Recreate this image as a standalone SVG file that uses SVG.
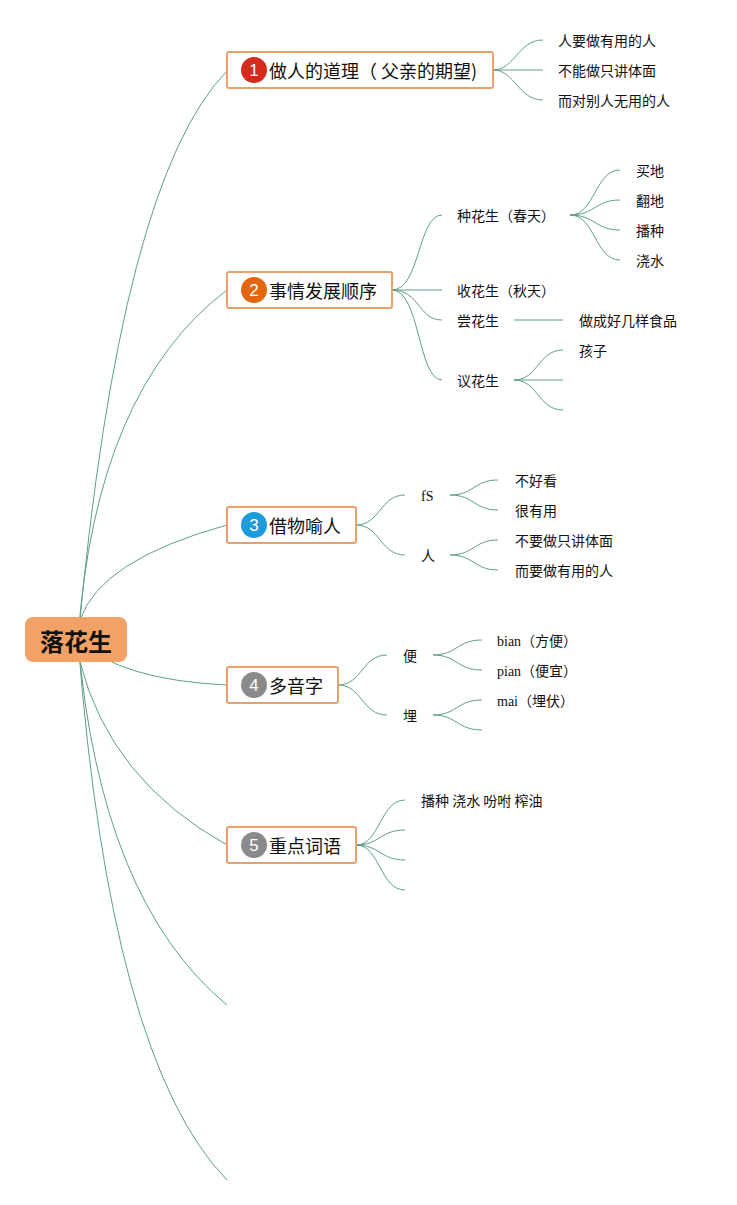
<svg xmlns="http://www.w3.org/2000/svg" width="737" height="1205" viewBox="0 0 737 1205">
<style>
.c{fill:none;stroke:#5f9e87;stroke-width:1}
.box{fill:#fff;stroke:#eaa06c;stroke-width:2}
.t{font-family:"Noto Sans CJK SC","Noto Sans",sans-serif;fill:#111;dominant-baseline:central}
.n{font-size:18px}
.l{font-size:14px}
.s{font-family:"Liberation Serif","Noto Sans CJK SC",serif;font-size:14px;fill:#111;dominant-baseline:central}
.b{font-family:"Liberation Sans","Noto Sans",sans-serif;font-size:17px;fill:#fff;text-anchor:middle;dominant-baseline:central}
</style>
<rect width="737" height="1205" fill="#fff"/>
<g id="connectors">
<path class="c" d="M78,640 Q120,180 227,71"/>
<path class="c" d="M78,640 Q95,390 227,290"/>
<path class="c" d="M80,620 Q100,560 227,525"/>
<path class="c" d="M78,640 Q120,680 227,685"/>
<path class="c" d="M80,662 Q110,780 227,845"/>
<path class="c" d="M78,640 Q100,900 227,1005"/>
<path class="c" d="M78,640 Q110,1060 227,1180"/>
<path class="c" d="M493,70 C515,70 518,40 543,40 M493,70 H543 M493,70 C515,70 518,100 543,100"/>
<path class="c" d="M392,290 C420,290 418,215 442,215 M392,290 H442 M392,290 C420,290 418,320 442,320 M392,290 C420,290 418,380 442,380"/>
<path class="c" d="M570,215 C595,215 595,170 620,170 M570,215 C595,215 595,200 620,200 M570,215 C595,215 595,230 620,230 M570,215 C595,215 595,260 620,260"/>
<path class="c" d="M514,320 H563"/>
<path class="c" d="M514,380 C538,380 538,350 563,350 M514,380 H563 M514,380 C538,380 538,410 563,410"/>
<path class="c" d="M356,525 C380,525 380,495 405,495 M356,525 C380,525 380,555 405,555"/>
<path class="c" d="M450,495 C474,495 474,480 498,480 M450,495 C474,495 474,510 498,510"/>
<path class="c" d="M450,555 C474,555 474,540 498,540 M450,555 C474,555 474,570 498,570"/>
<path class="c" d="M338,685 C362,685 362,655 387,655 M338,685 C362,685 362,715 387,715"/>
<path class="c" d="M433,655 C457,655 457,640 482,640 M433,655 C457,655 457,670 482,670"/>
<path class="c" d="M433,715 C457,715 457,700 482,700 M433,715 C457,715 457,730 482,730"/>
<path class="c" d="M356,845 C380,845 380,800 405,800 M356,845 C380,845 380,830 405,830 M356,845 C380,845 380,860 405,860 M356,845 C380,845 380,890 405,890"/>
</g>
<g id="root">
<rect x="25" y="617" width="102" height="45" rx="8" fill="#f2a266"/>
<text x="76" y="640" class="t" style="font-size:24px;font-weight:bold" text-anchor="middle">落花生</text>
</g>
<g id="n1">
<rect class="box" x="227" y="52" width="266" height="36" rx="2"/>
<circle cx="254" cy="70" r="13" fill="#d42b1e"/>
<text class="b" x="254" y="70">1</text>
<text class="t n" x="269" y="70">做人的道理（ 父亲的期望)</text>
</g>
<g id="n1a"><text class="t l" x="558" y="40">人要做有用的人</text></g>
<g id="n1b"><text class="t l" x="558" y="70">不能做只讲体面</text></g>
<g id="n1c"><text class="t l" x="558" y="100">而对别人无用的人</text></g>
<g id="n2">
<rect class="box" x="227" y="272" width="165" height="36" rx="2"/>
<circle cx="254" cy="290" r="13" fill="#e2650f"/>
<text class="b" x="254" y="290">2</text>
<text class="t n" x="269" y="290">事情发展顺序</text>
</g>
<g id="n2a"><text class="t l" x="457" y="215">种花生（春天）</text></g>
<g id="n2a1"><text class="t l" x="636" y="170">买地</text></g>
<g id="n2a2"><text class="t l" x="636" y="200">翻地</text></g>
<g id="n2a3"><text class="t l" x="636" y="230">播种</text></g>
<g id="n2a4"><text class="t l" x="636" y="260">浇水</text></g>
<g id="n2b"><text class="t l" x="457" y="290">收花生（秋天）</text></g>
<g id="n2c"><text class="t l" x="457" y="320">尝花生</text></g>
<g id="n2c1"><text class="t l" x="579" y="320">做成好几样食品</text></g>
<g id="n2d"><text class="t l" x="457" y="380">议花生</text></g>
<g id="n2d1"><text class="t l" x="579" y="350">孩子</text></g>
<g id="n3">
<rect class="box" x="227" y="507" width="129" height="36" rx="2"/>
<circle cx="254" cy="525" r="13" fill="#1e9bdb"/>
<text class="b" x="254" y="525">3</text>
<text class="t n" x="269" y="525">借物喻人</text>
</g>
<g id="n3a"><text class="s" x="421" y="496">fS</text></g>
<g id="n3a1"><text class="t l" x="515" y="480">不好看</text></g>
<g id="n3a2"><text class="t l" x="515" y="510">很有用</text></g>
<g id="n3b"><text class="t l" x="421" y="555">人</text></g>
<g id="n3b1"><text class="t l" x="515" y="540">不要做只讲体面</text></g>
<g id="n3b2"><text class="t l" x="515" y="570">而要做有用的人</text></g>
<g id="n4">
<rect class="box" x="227" y="667" width="111" height="36" rx="2"/>
<circle cx="254" cy="685" r="13" fill="#8a8a8a"/>
<text class="b" x="254" y="685">4</text>
<text class="t n" x="269" y="685">多音字</text>
</g>
<g id="n4a"><text class="t l" x="403" y="655">便</text></g>
<g id="n4a1"><text class="s" x="497" y="641">bian（方便）</text></g>
<g id="n4a2"><text class="s" x="497" y="671">pian（便宜）</text></g>
<g id="n4b"><text class="t l" x="403" y="715">埋</text></g>
<g id="n4b1"><text class="s" x="497" y="701">mai（埋伏）</text></g>
<g id="n5">
<rect class="box" x="227" y="827" width="129" height="36" rx="2"/>
<circle cx="254" cy="845" r="13" fill="#8a8a8a"/>
<text class="b" x="254" y="845">5</text>
<text class="t n" x="269" y="845">重点词语</text>
</g>
<g id="n5a"><text class="t l" x="421" y="800">播种 浇水 吩咐 榨油</text></g>
</svg>
